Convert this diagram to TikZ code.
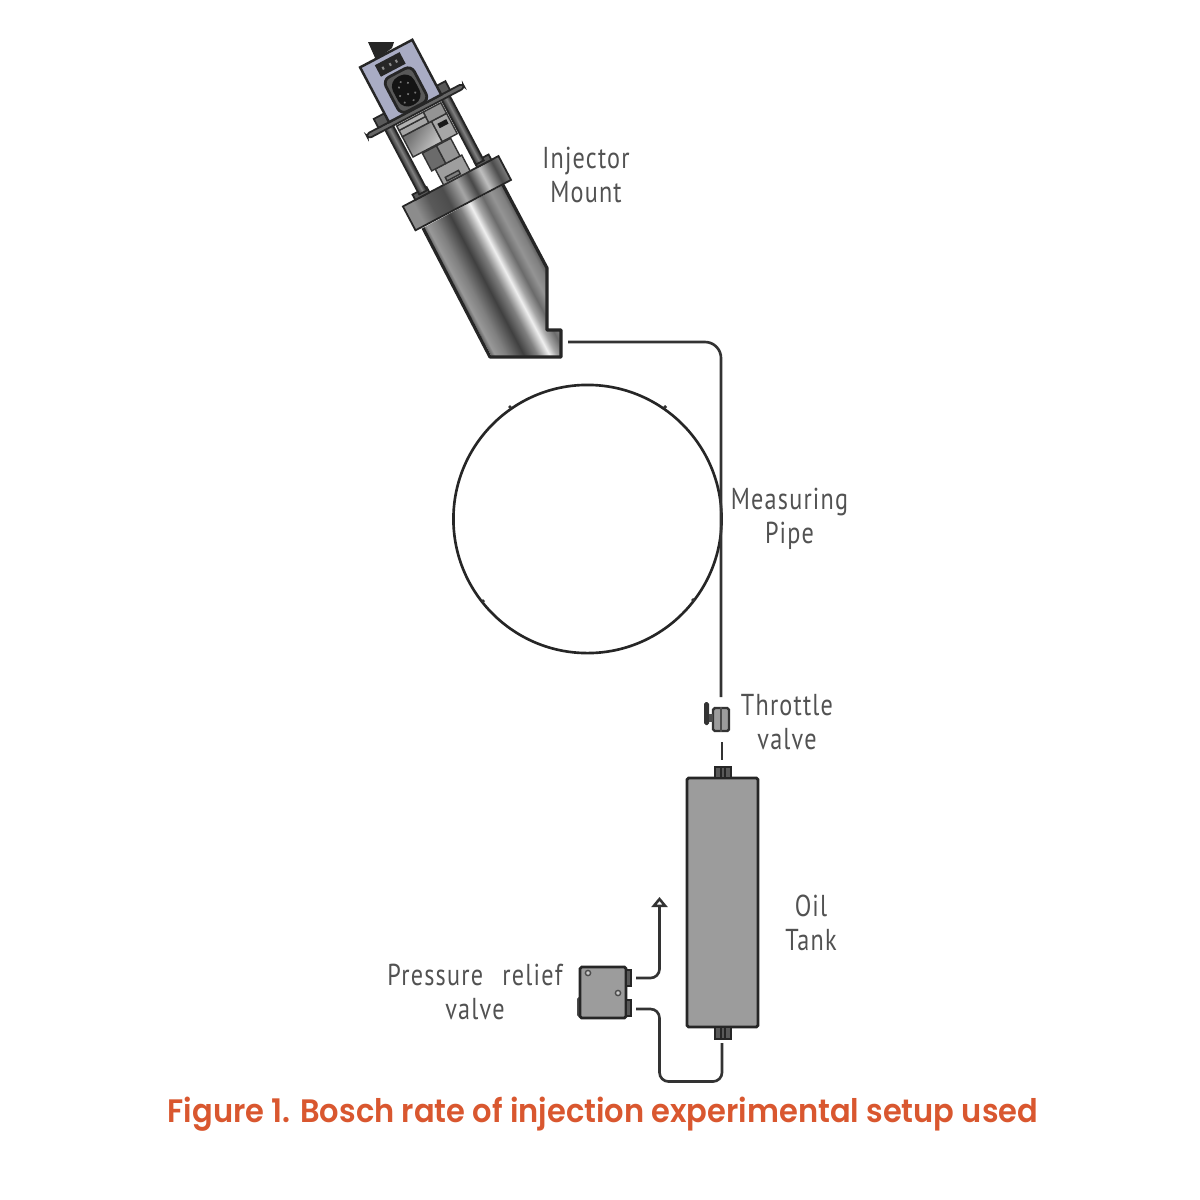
\documentclass[tikz,border=0pt]{standalone}
\usepackage{fontspec}
\setmainfont{PT Sans}[LetterSpace=4,FakeStretch=0.8]
\newfontfamily\capfont{Poppins SemiBold}[FakeStretch=0.94]
\usepackage{tikz}
\usetikzlibrary{shapes,arrows.meta}
\definecolor{capcolor}{HTML}{D9572F}
\definecolor{labelcolor}{HTML}{525252}
\definecolor{tankgray}{HTML}{9C9C9C}
\definecolor{housing}{HTML}{A9ACC4}
\pgfdeclarehorizontalshading{tubemetal}{100bp}{color(0bp)=(black!60);color(25bp)=(black!60);color(27bp)=(black!40);color(32.5bp)=(black!50);color(41bp)=(black!75);color(47.5bp)=(black!50);color(53.5bp)=(black!6);color(57bp)=(black!35);color(61.5bp)=(black!58);color(66.5bp)=(black!42);color(71.5bp)=(black!50);color(75bp)=(black!70);color(100bp)=(black!70)}
\pgfdeclarehorizontalshading{flangemetal}{100bp}{color(0bp)=(black!45);color(30bp)=(black!45);color(37bp)=(black!65);color(45bp)=(black!70);color(52.5bp)=(black!35);color(58.5bp)=(black!72);color(64.5bp)=(black!25);color(71bp)=(black!70);color(75bp)=(black!50);color(100bp)=(black!50)}
\pgfdeclarehorizontalshading{rodmetal}{100bp}{color(0bp)=(black!80);color(25bp)=(black!80);color(50bp)=(black!50);color(75bp)=(black!85);color(100bp)=(black!85)}
\tikzset{
  outline/.style={draw=black!85,line width=0.7pt},
  partbox/.style={outline,fill=tankgray,rounded corners=0.5pt},
  nutbox/.style={draw=black!85,fill=black!65,line width=0.5pt},
  blockbox/.style={draw=black!80,line width=0.4pt},
  pipe/.style={draw=black!80,line width=0.75pt,rounded corners=0.16cm},
  hose/.style={pipe,rounded corners=0.09cm},
  mountaxis/.style={transform canvas={shift={(4.63cm,-2.05cm)},rotate=27.8}},
  labeltext/.style={text=labelcolor,font=\fontsize{8.6}{9.7}\selectfont,align=center,inner sep=0pt},
}
\begin{document}
\begin{tikzpicture}[x=0.01cm,y=-0.01cm]
  \fill[white] (0,0) rectangle (1200,1200);
  \useasboundingbox (0,0) rectangle (1200,1200);

  % injector mount, body first
  \begin{scope}
    \clip (423,228) -- (503,185) -- (547,268) -- (547,330) -- (561,330) -- (561,357) -- (490,357) -- cycle;
    \begin{scope}[mountaxis,x=0.01cm,y=0.01cm]
      \path[shading=tubemetal] (-45.5,10) rectangle (45.5,-200);
    \end{scope}
  \end{scope}
  \draw[outline,line width=0.9pt,line join=round] (423,228) -- (490,357) -- (561,357) -- (561,330) -- (547,330) -- (547,268) -- (503,185);
  \fill[black!85] (368,42) -- (394,42) -- (392,48) -- (376,60) -- cycle;

  % upper part in the axis of the mount
  \begin{scope}[mountaxis,x=0.01cm,y=0.01cm]
    \draw[line width=0.5pt,shading=flangemetal,draw=black!85] (-54,0) rectangle (54,27);
    \draw[nutbox] (-40,27) rectangle (-24,33);
    \draw[nutbox] (30,27) rectangle (46,33);
    % blocks between the rods
    \draw[blockbox,fill=black!38] (-8,27) rectangle (22,45);
    \draw[blockbox,fill=black!50] (-3,29) rectangle (12,33);
    \draw[blockbox,fill=black!58] (-12,45) rectangle (4,65);
    \draw[blockbox,fill=black!42] (4,45) rectangle (20,65);
    \draw[blockbox,left color=black!55,right color=black!25,shading angle=30] (-22,66) rectangle (11,89);
    \draw[blockbox,fill=black!35] (11,66) rectangle (28,89);
    \fill[black!90] (15,79) rectangle (25,84);
    \draw[blockbox,fill=black!35] (-22,89) rectangle (8,96);
    \draw[blockbox,fill=black!42] (8,89) rectangle (28,101);
    \draw[blockbox,fill=black!30] (-22,96) rectangle (8,101);
    % rods, plate and nuts
    \draw[line width=0.5pt,draw=black!85,shading=rodmetal] (-34,30) rectangle (-25,104);
    \draw[line width=0.5pt,draw=black!85,shading=rodmetal] (30,30) rectangle (39,104);
    \draw[line width=0.5pt,draw=black!85,fill=black!60,rounded corners=1pt] (-53,103) rectangle (56,108);
    \draw[nutbox] (-39,108) rectangle (-21,118);
    \draw[nutbox] (24,108) rectangle (42,118);
    % housing with the plug
    \draw[outline,fill=housing] (-27,108) rectangle (32,170);
    \fill[black!85] (-13,152) rectangle (15,165);
    \foreach \xpos in {-8,0,7} \fill[black!45] (\xpos,157) rectangle ++(2,3);
    \draw[draw=black!85,line width=0.8pt,fill=black!65,rounded corners=2pt] (-13,109) rectangle (19,148);
    \fill[black!92,rounded corners=3pt] (-9,112) rectangle (15,144);
    \foreach \xpos/\ypos in {-4/118,3/124,8/134,-2/134,5/116,-5/126,10/122,2/138} \fill[black!55] (\xpos,\ypos) circle (1.2);
  \end{scope}

  % pipe loop and its small marks
  \node[circle,draw=black!85,line width=0.75pt,minimum size=2.68cm,inner sep=0pt] (pipeloop) at (587.5,519) {};
  \coordinate (mountout) at (568,342);
  \coordinate (valvein) at (721,697);
  \draw[pipe] (mountout) -- (721,342) -- (valvein);
  \foreach \xmark/\ymark/\xend/\yend in {511/408/509/406,664/408/666/406,484/602/482/600,692/601/694/599}
    \draw[black!80,line width=0.8pt] (\xmark,\ymark) -- (\xend,\yend);

  % throttle valve
  \node[partbox,draw=black!80,minimum width=0.16cm,minimum height=0.23cm,inner sep=0pt] (throttle) at (721,719.5) {};
  \draw[black!70,line width=0.5pt] (throttle.north) -- (throttle.south);
  \fill[black!80,rounded corners=0.5pt] (704,702) rectangle (709,725);
  \fill[black!70] (709,714) rectangle (713,722);
  \coordinate (valveout) at (722,742);
  \coordinate (tankin) at (722,760);
  \draw[black!80,line width=0.75pt] (valveout) -- (tankin);

  % oil tank
  \node[partbox,minimum width=0.71cm,minimum height=2.49cm,inner sep=0pt,line width=0.8pt] (tank) at (722.5,902.5) {};
  \draw[nutbox] (715,767) rectangle (731,778);
  \draw[nutbox] (715,1027) rectangle (731,1039);
  \foreach \xnut in {721,725} {
    \draw[black!85,line width=0.4pt] (\xnut,767) -- (\xnut,778);
    \draw[black!85,line width=0.4pt] (\xnut,1027) -- (\xnut,1039);
  }

  % pressure relief valve
  \fill[black!70,rounded corners=0.5pt] (577,997) rectangle (581,1017);
  \node[partbox,minimum width=0.46cm,minimum height=0.51cm,inner sep=0pt,line width=0.8pt] (relief) at (603,992.5) {};
  \draw[nutbox] (626,970) rectangle (631,986);
  \draw[nutbox] (626,1000) rectangle (631,1016);
  \draw[black!70,fill=black!20,line width=0.4pt] (588,973) circle (2.6);
  \draw[black!70,fill=black!20,line width=0.4pt] (618,993) circle (2.6);
  \coordinate (reliefvent) at (636,978);
  \coordinate (reliefin) at (636,1009);
  \coordinate (ventend) at (659.5,897);
  \coordinate (tankout) at (722,1043);
  \draw[hose,-{Triangle[open,length=2.9pt,width=4.6pt,fill=white]}] (reliefvent) -- (659.5,978) -- (ventend);
  \draw[hose] (reliefin) -- (659.5,1009) -- (659.5,1081.5) -- (722,1081.5) -- (tankout);

  % labels
  \node[labeltext] (mountlabel) at (586,175) {Injector\\Mount};
  \node[labeltext] (pipelabel) at (789.5,519) {Measuring\\Pipe};
  \node[labeltext] (throttlelabel) at (787,722) {Throttle\\valve};
  \node[labeltext] (tanklabel) at (811,923) {Oil\\Tank};
  \node[labeltext] (relieflabel) at (475,992) {Pressure\hspace{5.5pt}relief\\valve};
  \node[text=capcolor,font=\capfont\fontsize{9.23}{11}\selectfont,inner sep=0pt] (caption) at (603,1114.5) {Figure 1. Bosch rate of injection experimental setup used};
\end{tikzpicture}
\end{document}
